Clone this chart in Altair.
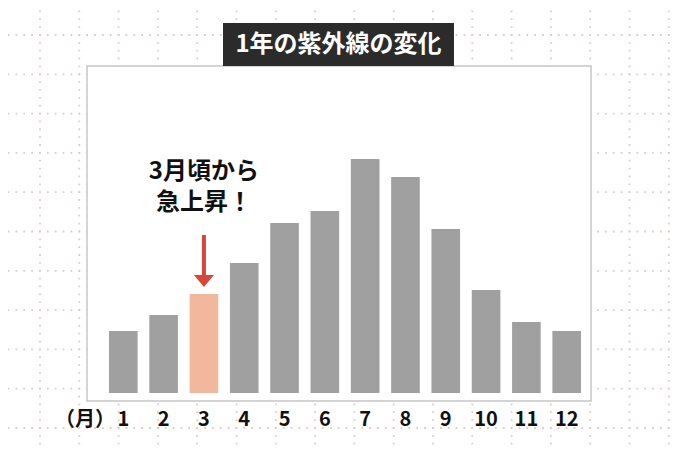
import altair as alt
import pandas as pd

# monthly UV (relative units)
months = [1, 2, 3, 4, 5, 6, 7, 8, 9, 10, 11, 12]
uv = [62, 78, 99, 130, 170, 182, 234, 216, 164, 103, 71, 62]
highlight_month = 3

title = "1年の紫外線の変化"
unit_label = "（月）"
note_lines = ["3月頃から", "急上昇！"]

JP = "Noto Sans CJK JP"
W, H = 664, 437

df = pd.DataFrame({"month": months, "uv": uv})
df["hi"] = df["month"] == highlight_month
one = pd.DataFrame({"a": [0]})
mark_df = pd.DataFrame({"month": [highlight_month]})

x_month = alt.X(
    "month:O",
    scale=alt.Scale(range=[101, 573], paddingInner=0.29, paddingOuter=0),
    axis=None,
)

# dotted background grid
dot = dict(color="#dccdc8", strokeWidth=1.8, strokeDash=[1.8, 6.06])
vgrid = (
    alt.Chart(alt.sequence(0, 17, as_="k"))
    .transform_calculate(px="32 + 39.3 * datum.k")
    .mark_rule(strokeDashOffset=5.4, **dot)
    .encode(x=alt.X("px:Q", scale=None), y=alt.value(0), y2=alt.value(H))
)
hgrid = (
    alt.Chart(alt.sequence(0, 11, as_="k"))
    .transform_calculate(py="27 + 39.3 * datum.k")
    .mark_rule(strokeDashOffset=0.4, **dot)
    .encode(y=alt.Y("py:Q", scale=None), x=alt.value(0), x2=alt.value(W))
)

panel = alt.Chart(one).mark_rect(fill="white", stroke="#c6c6c6", strokeWidth=1.5).encode(
    x=alt.value(79), x2=alt.value(583), y=alt.value(58), y2=alt.value(393)
)

title_box = alt.Chart(one).mark_rect(fill="#2b2b2b").encode(
    x=alt.value(215), x2=alt.value(446), y=alt.value(15), y2=alt.value(58)
)
title_text = alt.Chart(one).mark_text(
    font=JP, fontSize=24, fontWeight="bold", color="white", baseline="middle"
).encode(x=alt.value(330.5), y=alt.value(37), text=alt.value(title))

bars = alt.Chart(df).mark_bar().encode(
    x=x_month,
    y=alt.Y("uv:Q", scale=alt.Scale(domain=[0, 234], range=[385, 151]), axis=None),
    color=alt.condition("datum.hi", alt.value("#f2b89d"), alt.value("#a0a0a0")),
)

labels = alt.Chart(df).mark_text(
    font=JP, fontSize=20, fontWeight="bold", color="#111111", baseline="middle"
).encode(x=x_month, y=alt.value(412), text="month:O")

unit = alt.Chart(one).mark_text(
    font=JP, fontSize=20, fontWeight="bold", color="#111111", baseline="middle"
).encode(x=alt.value(77), y=alt.value(412), text=alt.value(unit_label))

note_style = dict(font=JP, fontSize=24, fontWeight="bold", color="#111111", baseline="middle")
note1 = alt.Chart(mark_df).mark_text(**note_style).encode(
    x=x_month, y=alt.value(164), text=alt.value(note_lines[0])
)
note2 = alt.Chart(mark_df).mark_text(**note_style).encode(
    x=x_month, y=alt.value(195), text=alt.value(note_lines[1])
)

arrow = alt.Chart(mark_df).mark_rule(color="#d5473a", strokeWidth=4).encode(
    x=x_month, y=alt.value(227), y2=alt.value(270)
)
arrow_head = alt.Chart(mark_df).mark_point(
    shape="M-1,-0.6L1,-0.6L0,0.6Z", filled=True, color="#d5473a", opacity=1, size=400
).encode(x=x_month, y=alt.value(273))

chart = (
    alt.layer(vgrid, hgrid, panel, title_box, title_text, bars, labels, unit,
              note1, note2, arrow, arrow_head)
    .properties(width=W, height=H, padding=0,
                autosize=alt.AutoSizeParams(type="none"), background="white")
    .configure_view(stroke=None)
)

chart.save("out.html", embed_options={"renderer": "svg", "actions": False})
